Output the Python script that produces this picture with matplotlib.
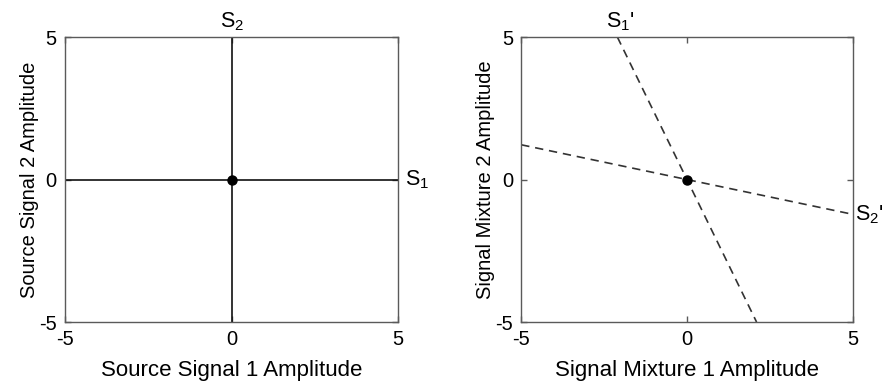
import numpy as np
import matplotlib
matplotlib.use("Agg")
import matplotlib.pyplot as plt

plt.rcParams['font.family'] = ['Liberation Sans', 'DejaVu Sans']
plt.rcParams['mathtext.fontset'] = 'custom'
plt.rcParams['mathtext.rm'] = 'Liberation Sans'
plt.rcParams['mathtext.it'] = 'Liberation Sans:italic'
plt.rcParams['axes.unicode_minus'] = False

# source axes (left panel)
s1_x = [-5, 5]
s1_y = [0, 0]
s2_x = [0, 0]
s2_y = [-5, 5]

# mixture directions (right panel)
s1p_x = [-2.1, 2.1]
s1p_y = [5, -5]
s2p_x = [-5, 5]
s2p_y = [1.22, -1.22]

origin = (0, 0)
ticks = [-5, 0, 5]

AX_GRAY = '#5a5a5a'

fig = plt.figure(figsize=(8.91, 3.82), dpi=100)
ax1 = fig.add_axes([0.073, 0.157, 0.374, 0.746])
ax2 = fig.add_axes([0.585, 0.157, 0.372, 0.746])


def style_axes(ax, xlabel, ylabel):
    ax.set_xlim(-5, 5)
    ax.set_ylim(-5, 5)
    ax.set_xticks(ticks)
    ax.set_yticks(ticks)
    ax.tick_params(direction='in', length=4, width=1, color=AX_GRAY,
                   top=True, right=True, labelsize=14.5, pad=6)
    for sp in ax.spines.values():
        sp.set_color(AX_GRAY)
        sp.set_linewidth(1.0)
    ax.set_xlabel(xlabel, fontsize=16, labelpad=8)
    ax.set_ylabel(ylabel, fontsize=14.5, labelpad=0)


# left: independent sources
ax1.plot(s1_x, s1_y, color='#111111', lw=1.2)
ax1.plot(s2_x, s2_y, color='#111111', lw=1.2)
ax1.plot(*origin, 'o', color='black', ms=6.5)
style_axes(ax1, 'Source Signal 1 Amplitude', 'Source Signal 2 Amplitude')
ax1.annotate('S$_2$', (s2_x[1], s2_y[1]), xytext=(0, 3), textcoords='offset points',
             ha='center', va='bottom', fontsize=15.5, annotation_clip=False)
ax1.annotate('S$_1$', (s1_x[1], s1_y[1]), xytext=(5, 0), textcoords='offset points',
             ha='left', va='center', fontsize=15.5, annotation_clip=False)

# right: mixed signals
ax2.plot(s1p_x, s1p_y, color='#333333', lw=1.2, dashes=(5, 3.5))
ax2.plot(s2p_x, s2p_y, color='#333333', lw=1.2, dashes=(5, 3.5))
ax2.plot(*origin, 'o', color='black', ms=6.5)
style_axes(ax2, 'Signal Mixture 1 Amplitude', 'Signal Mixture 2 Amplitude')
ax2.annotate("S$_1$'", (s1p_x[0], s1p_y[0]), xytext=(-8, 3), textcoords='offset points',
             ha='left', va='bottom', fontsize=15.5, annotation_clip=False)
ax2.annotate("S$_2$'", (s2p_x[1], s2p_y[1]), xytext=(2, 0), textcoords='offset points',
             ha='left', va='center', fontsize=15.5, annotation_clip=False)

fig.savefig('out.png', dpi=100)
